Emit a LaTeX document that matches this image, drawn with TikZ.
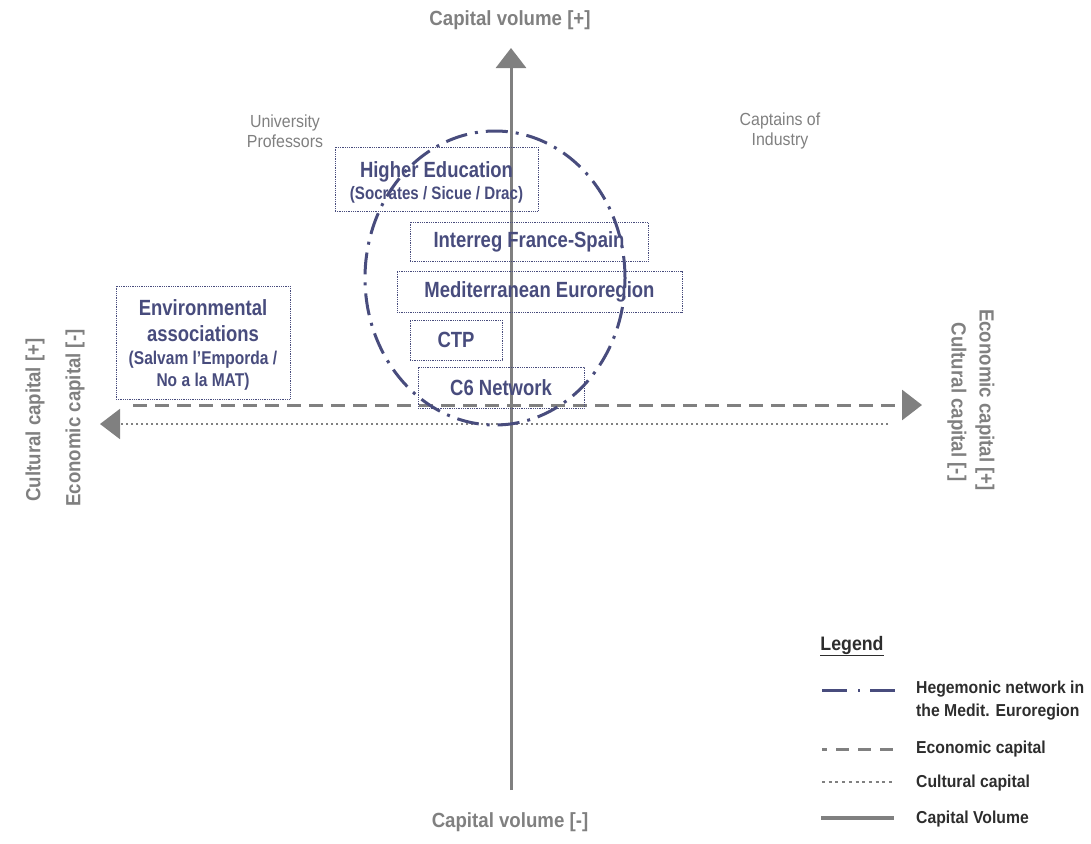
\documentclass[tikz,border=0pt]{standalone}
\usepackage{fontspec}
\setmainfont{Liberation Sans}[FakeStretch=0.84]
\newfontfamily\widefont{Liberation Sans}[FakeStretch=0.91]
\usetikzlibrary{arrows.meta}

\definecolor{navy}{RGB}{72,76,125}
\definecolor{axisgray}{RGB}{128,128,128}
\definecolor{legendtext}{RGB}{45,45,45}

\begin{document}
\begin{tikzpicture}[x=1pt, y=-1pt,
    box/.style={draw=navy, densely dotted, line width=0.8pt, text=navy, font=\bfseries\fontsize{22}{26}\selectfont, align=center, inner sep=0pt},
    axislabel/.style={text=axisgray, font=\widefont\bfseries\fontsize{20.5}{22}\selectfont},
    group/.style={text=axisgray, font=\widefont\fontsize{17.5}{20}\selectfont, align=center},
    legtext/.style={text=legendtext, font=\widefont\bfseries\fontsize{17.3}{23}\selectfont, anchor=west, align=left, inner sep=0pt},
    tip/.style={-{Triangle[length=20pt, width=30pt]}},
    hegemonic/.style={navy, line width=3pt, dash pattern=on 22pt off 8pt on 3pt off 8pt},
    economic/.style={axisgray, line width=3pt, dash pattern=on 14pt off 8pt},
    cultural/.style={axisgray, line width=2pt, dash pattern=on 2pt off 3pt},
    volume/.style={axisgray, line width=3pt}]
  \useasboundingbox (0,0) rectangle (1091,843);

  % axes
  \coordinate (vbot) at (511,790);
  \coordinate (vtop) at (511,48);
  \coordinate (eleft) at (133,405);
  \coordinate (eright) at (922,405);
  \coordinate (cright) at (888,424);
  \coordinate (cleft) at (100,424);
  \draw[volume, tip] (vbot) -- (vtop);
  \draw[economic, tip] (eleft) -- (eright);
  \draw[cultural, tip] (cright) -- (cleft);

  \node[axislabel] (volplus) at (510,20) {Capital volume [+]};
  \node[axislabel] (volminus) at (510,822) {Capital volume [-]};
  \node[axislabel, rotate=90] (cultplus) at (35,420) {Cultural capital [+]};
  \node[axislabel, rotate=90] (econminus) at (75,418) {Economic capital [-]};
  \node[axislabel, rotate=-90] (econplus) at (985,400) {Economic capital [+]};
  \node[axislabel, rotate=-90] (cultminus) at (957,402) {Cultural capital [-]};

  \node[group] (profs) at (285,131) {University\\Professors};
  \node[group] (captains) at (780,131) {Captains of\\Industry};

  % hegemonic network
  \draw[hegemonic] (495,278) ellipse [x radius=130pt, y radius=147pt];

  % actors
  \node[box, minimum width=203pt, minimum height=64pt] (higher) at (436.5,179)
    {\rule{0pt}{22pt}Higher Education\\[-4pt]{\fontsize{18}{22}\selectfont (Socrates / Sicue / Drac)}};
  \node[box, minimum width=238pt, minimum height=39pt] (interreg) at (529,241.5) {Interreg France-Spain};
  \node[box, minimum width=285pt, minimum height=41pt] (medit) at (539.5,291.5) {Mediterranean Euroregion};
  \node[box, minimum width=92pt, minimum height=40pt] (ctp) at (456,340) {CTP};
  \node[box, minimum width=166pt, minimum height=41pt] (csix) at (501,387.5) {C6 Network};
  \node[box, minimum width=174pt, minimum height=113pt] (env) at (203,342.5)
    {\rule{0pt}{20pt}Environmental\\associations\\[-3pt]{\fontsize{18.5}{22}\selectfont (Salvam l’Emporda /}\\[-4pt]{\fontsize{18.5}{22}\selectfont No a la MAT)}};

  % legend
  \node[text=legendtext, font=\widefont\bfseries\fontsize{19.5}{22}\selectfont] (legend) at (852,646) {\underline{Legend}};
  \node[legtext] (leghege) at (916,701) {Hegemonic network in\\the Medit. Euroregion};
  \node[legtext] (legecon) at (916,749) {Economic capital};
  \node[legtext] (legcult) at (916,783) {Cultural capital};
  \node[legtext] (legvol) at (916,819) {Capital Volume};
  \coordinate (h1) at (822,690);
  \coordinate (h2) at (895,690);
  \coordinate (e1) at (822,749);
  \coordinate (e2) at (895,749);
  \coordinate (c1) at (822,782);
  \coordinate (c2) at (895,782);
  \coordinate (v1) at (821,818);
  \coordinate (v2) at (894,818);
  \draw[hegemonic, dash pattern=on 25pt off 11pt on 2pt off 10pt] (h1) -- (h2);
  \draw[economic, dash pattern=on 13pt off 9pt, dash phase=8pt] (e1) -- (e2);
  \draw[cultural, dash pattern=on 3pt off 3.7pt] (c1) -- (c2);
  \draw[volume, line width=3.5pt] (v1) -- (v2);
\end{tikzpicture}
\end{document}
